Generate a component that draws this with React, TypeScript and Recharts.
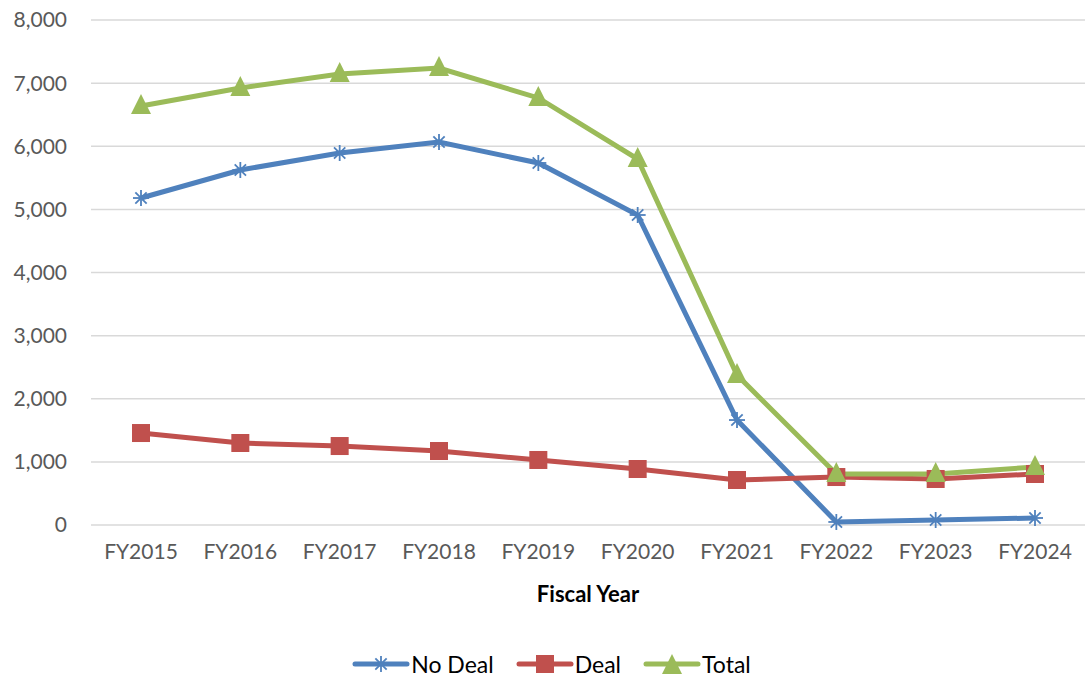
import { CartesianGrid, Line, LineChart, XAxis, YAxis } from "recharts";

// Values
const YEARS = ["FY2015", "FY2016", "FY2017", "FY2018", "FY2019", "FY2020", "FY2021", "FY2022", "FY2023", "FY2024"];
const NO_DEAL = [5180, 5624, 5893, 6067, 5735, 4911, 1663, 48, 79, 111];
const DEAL = [1457, 1299, 1251, 1172, 1030, 887, 713, 760, 729, 808];
const TOTAL = [6637, 6923, 7144, 7239, 6765, 5798, 2376, 808, 808, 919];
const Y_TICKS = [0, 1000, 2000, 3000, 4000, 5000, 6000, 7000, 8000];

const BLUE = "#4f81bd";
const RED = "#c0504d";
const GREEN = "#9bbb59";
const FONT = "Lato, 'Open Sans', sans-serif";

const rows = YEARS.map((year, i) => ({
  year,
  noDeal: NO_DEAL[i],
  deal: DEAL[i],
  total: TOTAL[i],
}));

function StarDot(props: any) {
  const { cx, cy } = props;
  if (cx == null || cy == null) return null;
  const r = 8;
  const d = r * 0.7071;
  return (
    <g stroke={BLUE} strokeWidth={1.8}>
      <line x1={cx - r} y1={cy} x2={cx + r} y2={cy} />
      <line x1={cx} y1={cy - r} x2={cx} y2={cy + r} />
      <line x1={cx - d} y1={cy - d} x2={cx + d} y2={cy + d} />
      <line x1={cx - d} y1={cy + d} x2={cx + d} y2={cy - d} />
    </g>
  );
}

function SquareDot(props: any) {
  const { cx, cy } = props;
  if (cx == null || cy == null) return null;
  return <rect x={cx - 9} y={cy - 9} width={18} height={18} fill={RED} />;
}

function TriangleDot(props: any) {
  const { cx, cy } = props;
  if (cx == null || cy == null) return null;
  return <polygon points={`${cx},${cy - 12} ${cx + 10},${cy + 8} ${cx - 10},${cy + 8}`} fill={GREEN} />;
}

const fmt = (v: number) => v.toLocaleString("en-US");

function LegendItem({ label, color, kind }: { label: string; color: string; kind: string }) {
  return (
    <span style={{ display: "inline-flex", alignItems: "center", marginRight: 22 }}>
      <svg width={58} height={24}>
        <line x1={3} y1={12} x2={55} y2={12} stroke={color} strokeWidth={5} strokeLinecap="round" />
        {kind === "star" && <StarDot cx={29} cy={12} />}
        {kind === "square" && <SquareDot cx={29} cy={12} />}
        {kind === "triangle" && <TriangleDot cx={29} cy={14} />}
      </svg>
      <span style={{ marginLeft: 1 }}>{label}</span>
    </span>
  );
}

export default function App() {
  return (
    <div style={{ position: "absolute", left: 0, top: 0, width: 1085, height: 683, background: "#fff", fontFamily: FONT }}>
      <LineChart width={1085} height={683} data={rows} margin={{ top: 20, right: 0, bottom: 58, left: 0 }}>
        <CartesianGrid vertical={false} stroke="#d9d9d9" strokeWidth={1.5} />
        <XAxis
          dataKey="year"
          axisLine={false}
          tickLine={false}
          tickMargin={13}
          height={100}
          interval={0}
          padding={{ left: 50, right: 50 }}
          tick={{ fontSize: 21, fill: "#595959", fontFamily: FONT }}
          label={{ value: "Fiscal Year", position: "insideTop", dy: 56, fontSize: 22, fontWeight: 700, fill: "#000", fontFamily: FONT }}
        />
        <YAxis
          width={91}
          domain={[0, 8000]}
          ticks={Y_TICKS}
          axisLine={false}
          tickLine={false}
          tickMargin={18}
          tickFormatter={fmt}
          tick={{ fontSize: 21, fill: "#595959", fontFamily: FONT }}
        />
        <Line dataKey="noDeal" stroke={BLUE} strokeWidth={5} dot={<StarDot />} activeDot={false} isAnimationActive={false} />
        <Line dataKey="deal" stroke={RED} strokeWidth={5} dot={<SquareDot />} activeDot={false} isAnimationActive={false} />
        <Line dataKey="total" stroke={GREEN} strokeWidth={5} dot={<TriangleDot />} activeDot={false} isAnimationActive={false} />
      </LineChart>
      <div
        style={{
          position: "absolute",
          left: 0,
          top: 650,
          width: 1085,
          display: "flex",
          justifyContent: "center",
          fontSize: 23,
          color: "#000",
          paddingLeft: 20,
        }}
      >
        <LegendItem label="No Deal" color={BLUE} kind="star" />
        <LegendItem label="Deal" color={RED} kind="square" />
        <LegendItem label="Total" color={GREEN} kind="triangle" />
      </div>
    </div>
  );
}
